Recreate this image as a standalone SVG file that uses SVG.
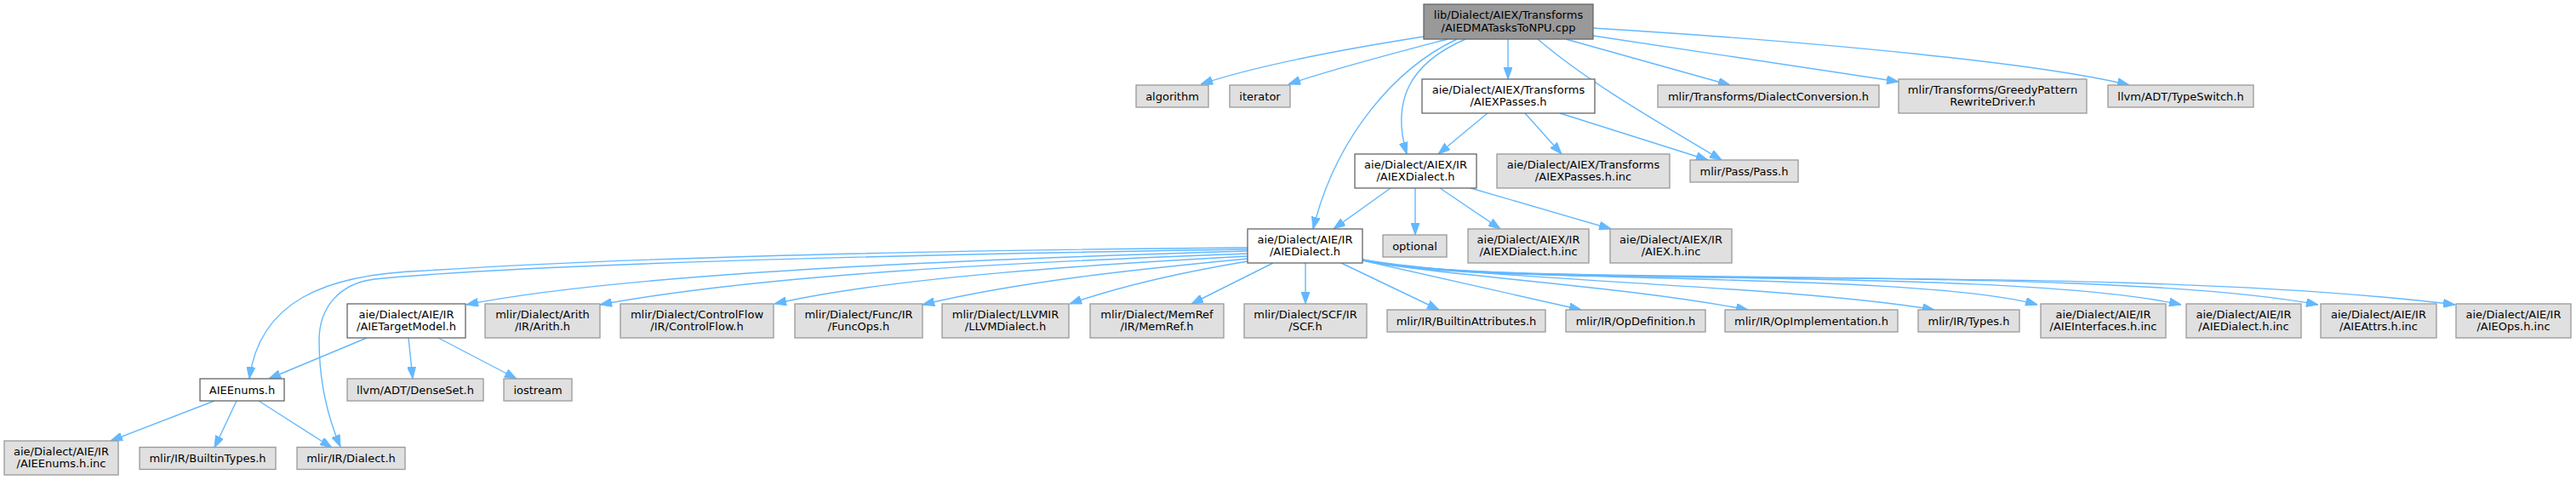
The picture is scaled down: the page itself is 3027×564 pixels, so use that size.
<svg xmlns="http://www.w3.org/2000/svg" width="3027" height="564" viewBox="0 0 3027 564">
<defs>
<style>
.n rect{fill:#ffffff;stroke:#666666;stroke-width:1.3}
.x rect{fill:#e0e0e0;stroke:#999999;stroke-width:1.3}
.r rect{fill:#999999;stroke:#666666;stroke-width:1.3}
text{font-family:"DejaVu Sans","Liberation Sans",sans-serif;font-size:13px;fill:#000000;text-anchor:middle}
#edges path{fill:none;stroke:#63b8ff;stroke-width:1.4;marker-end:url(#ah)}
</style>
<marker id="ah" markerWidth="14" markerHeight="10" refX="14" refY="5" orient="auto" markerUnits="userSpaceOnUse">
<path d="M0,0 L14,5 L0,10 z" fill="#63b8ff" stroke="#63b8ff" stroke-width="1"/>
</marker>
</defs>
<rect width="3027" height="564" fill="#ffffff"/>
<g id="edges">
<path d="M1673,43 C1590,56 1480,76 1411,99"/>
<path d="M1701,46 C1640,62 1570,80 1514,99"/>
<path d="M1712,46 C1640,80 1570,160 1543,269"/>
<path d="M1722,46 C1655,75 1635,120 1653,181"/>
<path d="M1772,46 L1772,93"/>
<path d="M1807,46 C1870,100 1960,150 2023,188"/>
<path d="M1840,46 L2033,100"/>
<path d="M1872,42 L2231,96"/>
<path d="M1872,33 C2150,50 2400,75 2502,100"/>
<path d="M1748,133 L1690,181"/>
<path d="M1792,133 L1835,181"/>
<path d="M1833,133 L2007,188"/>
<path d="M1634,221 L1567,269"/>
<path d="M1663,221 L1663,276"/>
<path d="M1692,221 L1763,269"/>
<path d="M1728,221 L1893,269"/>
<path d="M1466,291 C1000,295 700,305 500,318 C380,322 305,355 293,445"/>
<path d="M1466,293 C1000,300 600,312 440,328 C400,333 375,360 375,400 C375,450 385,490 400,525"/>
<path d="M1466,295 C1200,303 750,318 548,358"/>
<path d="M1466,298 C1200,308 900,322 705,358"/>
<path d="M1466,301 C1300,310 1050,325 910,357"/>
<path d="M1466,304 C1350,315 1200,330 1084,358"/>
<path d="M1466,307 C1400,318 1320,335 1257,357"/>
<path d="M1496,309 L1400,357"/>
<path d="M1534,309 L1534,357"/>
<path d="M1576,309 L1691,364"/>
<path d="M1601,306 L1858,364"/>
<path d="M1601,306 C1700,325 1900,335 2054,364"/>
<path d="M1601,305 C1750,330 2100,335 2273,364"/>
<path d="M1601,305 C1720,335 2250,318 2394,358"/>
<path d="M1601,305 C1730,338 2350,312 2563,358"/>
<path d="M1601,305 C1740,340 2450,308 2724,358"/>
<path d="M1601,305 C1750,345 2450,305 2885,358"/>
<path d="M431,397 L316,445"/>
<path d="M480,397 L485,445"/>
<path d="M515,397 L607,445"/>
<path d="M252,471 L130,518"/>
<path d="M278,471 L252,526"/>
<path d="M304,471 L390,526"/>
</g>
<g id="root" class="r"><rect x="1673" y="5" width="199" height="41"/><text x="1772.5" y="22">lib/Dialect/AIEX/Transforms</text><text x="1772.5" y="37">/AIEDMATasksToNPU.cpp</text></g>
<g id="algorithm" class="x"><rect x="1335" y="100" width="85" height="26"/><text x="1377.5" y="117.5">algorithm</text></g>
<g id="iterator" class="x"><rect x="1445" y="100" width="71" height="26"/><text x="1480.5" y="117.5">iterator</text></g>
<g id="aiexpasses" class="n"><rect x="1671" y="93" width="203" height="40"/><text x="1772.5" y="110">aie/Dialect/AIEX/Transforms</text><text x="1772.5" y="124">/AIEXPasses.h</text></g>
<g id="dialectconversion" class="x"><rect x="1948" y="100" width="260" height="26"/><text x="2078" y="117.5">mlir/Transforms/DialectConversion.h</text></g>
<g id="greedy" class="x"><rect x="2231" y="93" width="221" height="40"/><text x="2341.5" y="110">mlir/Transforms/GreedyPattern</text><text x="2341.5" y="124">RewriteDriver.h</text></g>
<g id="typeswitch" class="x"><rect x="2477" y="100" width="171" height="26"/><text x="2562.5" y="117.5">llvm/ADT/TypeSwitch.h</text></g>
<g id="aiexdialect" class="n"><rect x="1592" y="181" width="143" height="40"/><text x="1663.5" y="198">aie/Dialect/AIEX/IR</text><text x="1663.5" y="212">/AIEXDialect.h</text></g>
<g id="aiexpassesinc" class="x"><rect x="1759" y="181" width="203" height="40"/><text x="1860.5" y="198">aie/Dialect/AIEX/Transforms</text><text x="1860.5" y="212">/AIEXPasses.h.inc</text></g>
<g id="pass" class="x"><rect x="1986" y="188" width="127" height="26"/><text x="2049.5" y="205.5">mlir/Pass/Pass.h</text></g>
<g id="aiedialect" class="n"><rect x="1466" y="269" width="135" height="40"/><text x="1533.5" y="286">aie/Dialect/AIE/IR</text><text x="1533.5" y="300">/AIEDialect.h</text></g>
<g id="optional" class="x"><rect x="1625" y="276" width="75" height="26"/><text x="1662.5" y="293.5">optional</text></g>
<g id="aiexdialectinc" class="x"><rect x="1725" y="269" width="142" height="40"/><text x="1796" y="286">aie/Dialect/AIEX/IR</text><text x="1796" y="300">/AIEXDialect.h.inc</text></g>
<g id="aiexinc" class="x"><rect x="1892" y="269" width="143" height="40"/><text x="1963.5" y="286">aie/Dialect/AIEX/IR</text><text x="1963.5" y="300">/AIEX.h.inc</text></g>
<g id="aietargetmodel" class="n"><rect x="408" y="357" width="139" height="40"/><text x="477.5" y="374">aie/Dialect/AIE/IR</text><text x="477.5" y="388">/AIETargetModel.h</text></g>
<g id="arith" class="x"><rect x="570" y="357" width="135" height="40"/><text x="637.5" y="374">mlir/Dialect/Arith</text><text x="637.5" y="388">/IR/Arith.h</text></g>
<g id="controlflow" class="x"><rect x="729" y="357" width="180" height="40"/><text x="819" y="374">mlir/Dialect/ControlFlow</text><text x="819" y="388">/IR/ControlFlow.h</text></g>
<g id="funcops" class="x"><rect x="934" y="357" width="150" height="40"/><text x="1009" y="374">mlir/Dialect/Func/IR</text><text x="1009" y="388">/FuncOps.h</text></g>
<g id="llvmdialect" class="x"><rect x="1107" y="357" width="149" height="40"/><text x="1181.5" y="374">mlir/Dialect/LLVMIR</text><text x="1181.5" y="388">/LLVMDialect.h</text></g>
<g id="memref" class="x"><rect x="1281" y="357" width="157" height="40"/><text x="1359.5" y="374">mlir/Dialect/MemRef</text><text x="1359.5" y="388">/IR/MemRef.h</text></g>
<g id="scf" class="x"><rect x="1462" y="357" width="144" height="40"/><text x="1534" y="374">mlir/Dialect/SCF/IR</text><text x="1534" y="388">/SCF.h</text></g>
<g id="builtinattributes" class="x"><rect x="1630" y="364" width="186" height="26"/><text x="1723" y="381.5">mlir/IR/BuiltinAttributes.h</text></g>
<g id="opdefinition" class="x"><rect x="1840" y="364" width="164" height="26"/><text x="1922" y="381.5">mlir/IR/OpDefinition.h</text></g>
<g id="opimplementation" class="x"><rect x="2027" y="364" width="203" height="26"/><text x="2128.5" y="381.5">mlir/IR/OpImplementation.h</text></g>
<g id="types" class="x"><rect x="2254" y="364" width="119" height="26"/><text x="2313.5" y="381.5">mlir/IR/Types.h</text></g>
<g id="aieinterfacesinc" class="x"><rect x="2398" y="357" width="147" height="40"/><text x="2471.5" y="374">aie/Dialect/AIE/IR</text><text x="2471.5" y="388">/AIEInterfaces.h.inc</text></g>
<g id="aiedialectinc" class="x"><rect x="2569" y="357" width="135" height="40"/><text x="2636.5" y="374">aie/Dialect/AIE/IR</text><text x="2636.5" y="388">/AIEDialect.h.inc</text></g>
<g id="aieattrsinc" class="x"><rect x="2727" y="357" width="136" height="40"/><text x="2795" y="374">aie/Dialect/AIE/IR</text><text x="2795" y="388">/AIEAttrs.h.inc</text></g>
<g id="aieopsinc" class="x"><rect x="2886" y="357" width="135" height="40"/><text x="2953.5" y="374">aie/Dialect/AIE/IR</text><text x="2953.5" y="388">/AIEOps.h.inc</text></g>
<g id="aieenums" class="n"><rect x="235" y="445" width="99" height="26"/><text x="284.5" y="462.5">AIEEnums.h</text></g>
<g id="denseset" class="x"><rect x="408" y="445" width="160" height="26"/><text x="488" y="462.5">llvm/ADT/DenseSet.h</text></g>
<g id="iostream" class="x"><rect x="592" y="445" width="80" height="26"/><text x="632" y="462.5">iostream</text></g>
<g id="aieenumsinc" class="x"><rect x="5" y="518" width="134" height="40"/><text x="72" y="535">aie/Dialect/AIE/IR</text><text x="72" y="549">/AIEEnums.h.inc</text></g>
<g id="builtintypes" class="x"><rect x="164" y="525.5" width="160" height="26"/><text x="244" y="543">mlir/IR/BuiltinTypes.h</text></g>
<g id="dialect" class="x"><rect x="349" y="525.5" width="127" height="26"/><text x="412.5" y="543">mlir/IR/Dialect.h</text></g>
</svg>
